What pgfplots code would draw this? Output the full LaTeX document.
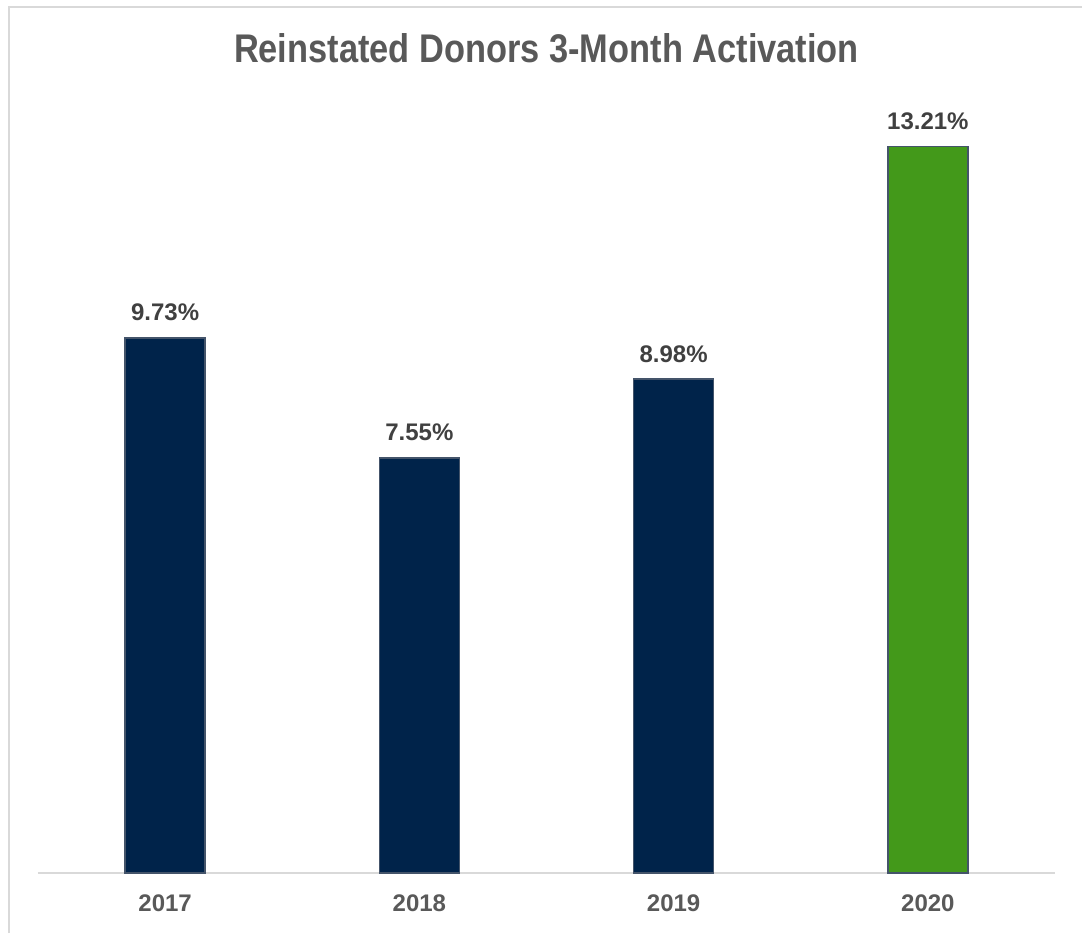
\documentclass[border=0pt]{standalone}
\usepackage{pgfplots}
\pgfplotsset{compat=1.18}
\usepackage{fontspec}
\setmainfont{Liberation Sans}
\newfontfamily\titlefont[FakeStretch=0.86]{Liberation Sans}
\definecolor{navy}{HTML}{00234A}
\definecolor{edgeblue}{HTML}{44546A}
\definecolor{barGreen}{HTML}{43991A}
\definecolor{lblgray}{HTML}{404040}
\definecolor{tickgray}{HTML}{595959}
\definecolor{linegray}{HTML}{D9D9D9}

\pgfplotstableread{
x val label
0 9.73 9.73\%
1 7.55 7.55\%
2 8.98 8.98\%
}\older
\pgfplotstableread{
x val label
3 13.21 13.21\%
}\latest

\begin{document}
\begin{tikzpicture}
\useasboundingbox (0,0) rectangle (541pt,466.5pt);
% frame on top and left edges
\draw[linegray, line width=1pt] (4.5pt,0) -- (4.5pt,463pt) -- (541pt,463pt);
\node[anchor=base, text=tickgray, font=\titlefont\bfseries\fontsize{20}{24}\selectfont]
  at (273.25pt,435pt) {Reinstated Donors 3-Month Activation};
\begin{axis}[
    anchor=south west, at={(19pt,30pt)},
    scale only axis, width=508.5pt, height=385pt,
    ybar, bar width=40pt, bar shift=0pt,
    xmin=-0.5, xmax=3.5, ymin=0, ymax=14,
    axis x line*=bottom, axis y line=none,
    x axis line style={linegray, line width=1pt, -},
    xtick={0,1,2,3}, xticklabels={2017,2018,2019,2020},
    major tick length=0pt,
    xticklabel style={font=\bfseries\fontsize{12}{14}\selectfont, text=tickgray, inner sep=0pt, yshift=-10.5pt},
    nodes near coords,
    point meta=explicit symbolic,
    every node near coord/.append style={font=\bfseries\fontsize{12}{14}\selectfont, text=lblgray, anchor=base, inner sep=0pt, yshift=8.5pt},
    clip=false,
]
\addplot[fill=navy, draw=edgeblue, line width=0.8pt] table[x=x, y=val, meta=label] {\older};
\addplot[fill=barGreen, draw=edgeblue, line width=0.8pt] table[x=x, y=val, meta=label] {\latest};
\end{axis}
\end{tikzpicture}
\end{document}
